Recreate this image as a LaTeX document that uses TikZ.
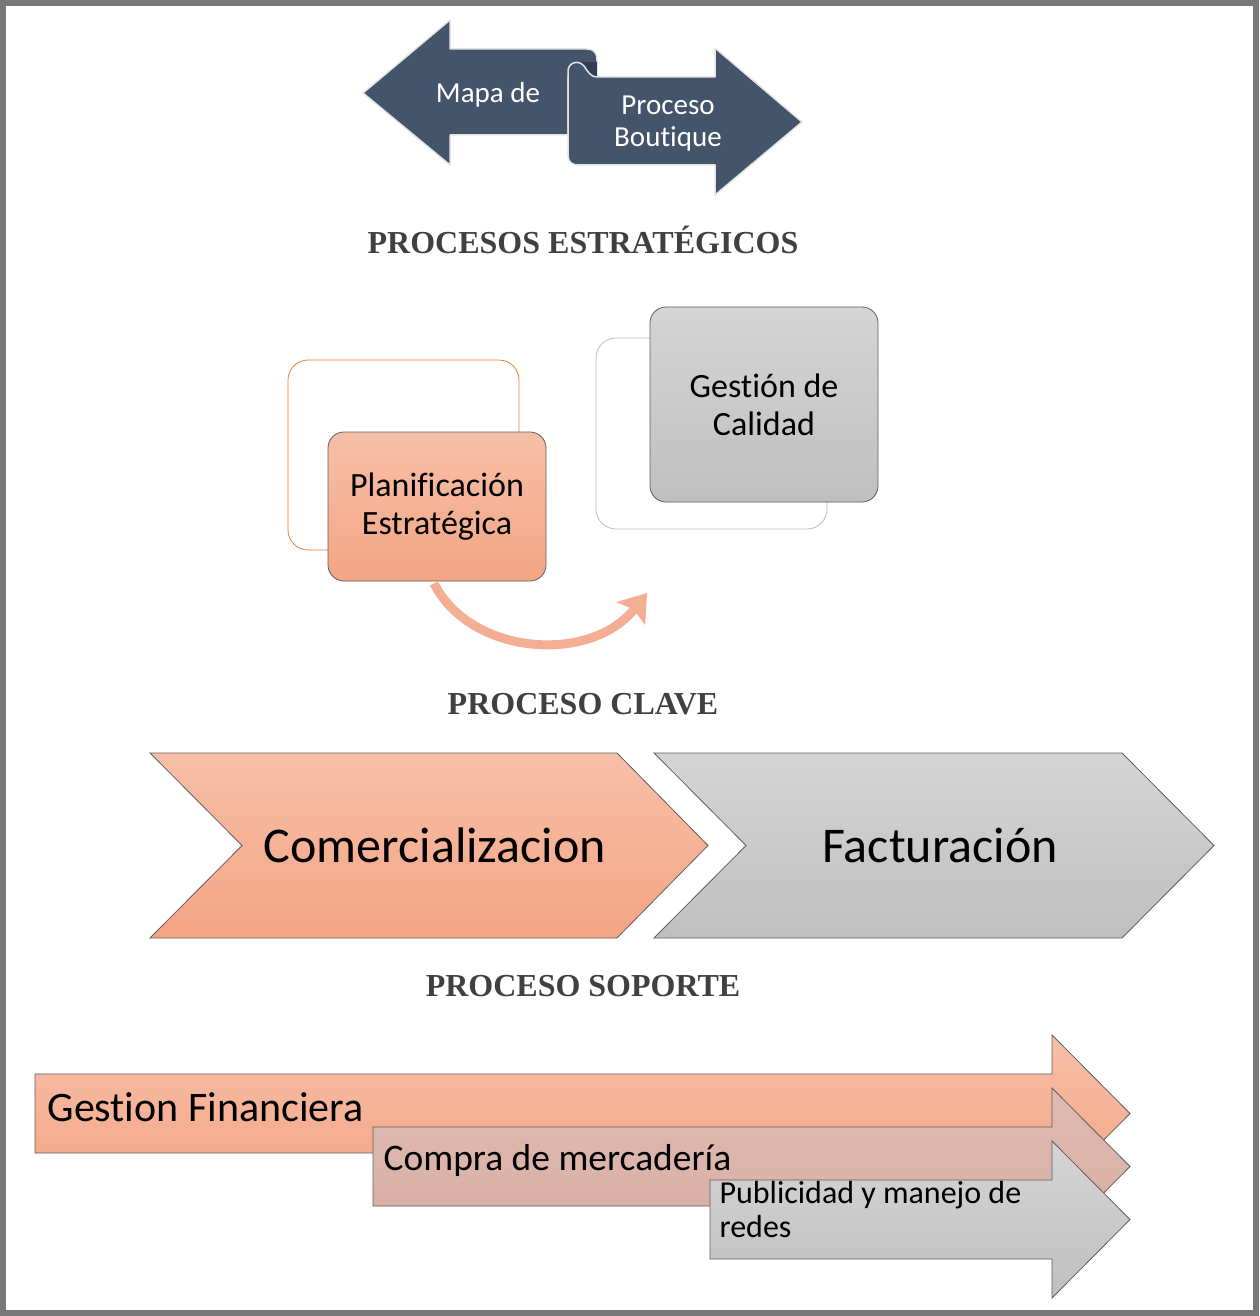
\documentclass[tikz,border=0pt]{standalone}
\usepackage{fontspec}
\setmainfont{Carlito}[Ligatures=NoCommon]
\newfontfamily\titlefont{Liberation Serif}
\usetikzlibrary{arrows.meta}

\definecolor{slate}{HTML}{44546A}
\definecolor{slatedark}{HTML}{323E4F}
\definecolor{slateline}{HTML}{E4E4E4}
\definecolor{salmontop}{HTML}{F7BFA8}
\definecolor{salmonbot}{HTML}{F4A584}
\definecolor{greytop}{HTML}{D5D5D5}
\definecolor{greybot}{HTML}{BFBFBF}
\definecolor{rosetop}{HTML}{DEBBB2}
\definecolor{rosebot}{HTML}{D8ADA2}
\definecolor{edgegrey}{HTML}{5E5E5E}
\definecolor{titlegrey}{HTML}{404040}
\definecolor{framegrey}{HTML}{787878}
\definecolor{orangeline}{HTML}{ED7D31}
\definecolor{lightline}{HTML}{BDBDBD}
\definecolor{curvecol}{HTML}{F4AE94}

\begin{document}
\begin{tikzpicture}[x=1pt, y=-1pt,
    title/.style={font=\titlefont\bfseries\fontsize{32}{36}\selectfont, text=titlegrey},
    salmon/.style={top color=salmontop, bottom color=salmonbot, draw=edgegrey, line width=.8pt},
    rose/.style={top color=rosetop, bottom color=rosebot, draw=edgegrey, line width=.8pt},
    grey/.style={top color=greytop, bottom color=greybot, draw=edgegrey, line width=.8pt},
    banner/.style={fill=slate, draw=slateline, line width=1.5pt, line join=round},
    card/.style={rounded corners=16pt, align=center, inner sep=0pt,
                 font=\fontsize{34}{38}\selectfont},
    backcard/.style={rounded corners=20pt, line width=.8pt, inner sep=0pt}]
  \useasboundingbox (0,0) rectangle (1259,1316);
  \draw[framegrey, line width=6pt] (3,3) rectangle (1256,1313);

  % strategic processes
  \draw[banner] (363,93) -- (450,20) -- (450,49) -- (587,49)
    .. controls (594,49) and (597,53) .. (597,60) -- (597,77) -- (568,77)
    -- (568,135) -- (450,135) -- (450,165) -- cycle;
  \fill[slatedark] (574,62) rectangle (597,77);
  \draw[banner] (568,155) -- (568,71) .. controls (568,63) and (578,59) .. (584,66)
    .. controls (588,72) and (591,77) .. (597,77) -- (715,77) -- (715,48)
    -- (802,122) -- (715,195) -- (715,165) -- (578,165)
    .. controls (572,165) and (568,162) .. cycle;
  \node[text=white, font=\fontsize{29}{32}\selectfont] (mapa) at (488,95) {Mapa de};
  \node[text=white, align=center, font=\fontsize{29}{32}\selectfont] (boutique) at (668,124) {Proceso\\Boutique};

  \node[title] (estrat) at (583,240) {PROCESOS ESTRATÉGICOS};

  \node[backcard, draw=orangeline, minimum width=231pt, minimum height=190pt] (planback) at (403.5,455) {};
  \node[backcard, draw=lightline, minimum width=231pt, minimum height=191pt] (calback) at (711.5,433.5) {};
  \node[card, salmon, minimum width=218pt, minimum height=149pt] (plan) at (437,506.5) {Planificación\\Estratégica};
  \node[card, grey, minimum width=228pt, minimum height=195pt] (calidad) at (764,404.5) {Gestión de\\Calidad};

  \coordinate (curvetip) at (647,593);
  \draw[curvecol, line width=9pt, -{Stealth[length=26pt, width=36pt, inset=5pt]}]
    (plan.south) ++(-3,2) .. controls (470,655) and (590,665) .. (curvetip);

  % key processes
  \node[title] (clave) at (583,704) {PROCESO CLAVE};

  \draw[salmon] (150,753) -- (617,753) -- (708,845.5) -- (617,938) -- (150,938) -- (242,845.5) -- cycle;
  \draw[grey] (654,753) -- (1122,753) -- (1214,845.5) -- (1122,938) -- (654,938) -- (746,845.5) -- cycle;
  \node[font=\fontsize{50}{56}\selectfont] (comerc) at (435,845) {Comercializacion};
  \node[font=\fontsize{50}{56}\selectfont] (factura) at (940,845) {Facturación};

  % support processes
  \node[title] (soporte) at (583,986) {PROCESO SOPORTE};

  \draw[salmon] (35,1074) -- (1052,1074) -- (1052,1035) -- (1130,1113.5) -- (1052,1192) -- (1052,1153) -- (35,1153) -- cycle;
  \draw[rose] (373,1127) -- (1052,1127) -- (1052,1088) -- (1130,1166.5) -- (1052,1245) -- (1052,1206) -- (373,1206) -- cycle;
  \draw[grey] (710,1180) -- (1052,1180) -- (1052,1141) -- (1130,1219.5) -- (1052,1298) -- (1052,1259) -- (710,1259) -- cycle;
  \node[anchor=west, font=\fontsize{42}{46}\selectfont] (finanzas) at (44,1107) {Gestion Financiera};
  \node[anchor=west, font=\fontsize{37.5}{40}\selectfont] (compra) at (380,1160) {Compra de mercadería};
  \node[anchor=north west, align=left, font=\fontsize{32}{34}\selectfont] (redes) at (716,1178) {Publicidad y manejo de\\redes};
\end{tikzpicture}
\end{document}
